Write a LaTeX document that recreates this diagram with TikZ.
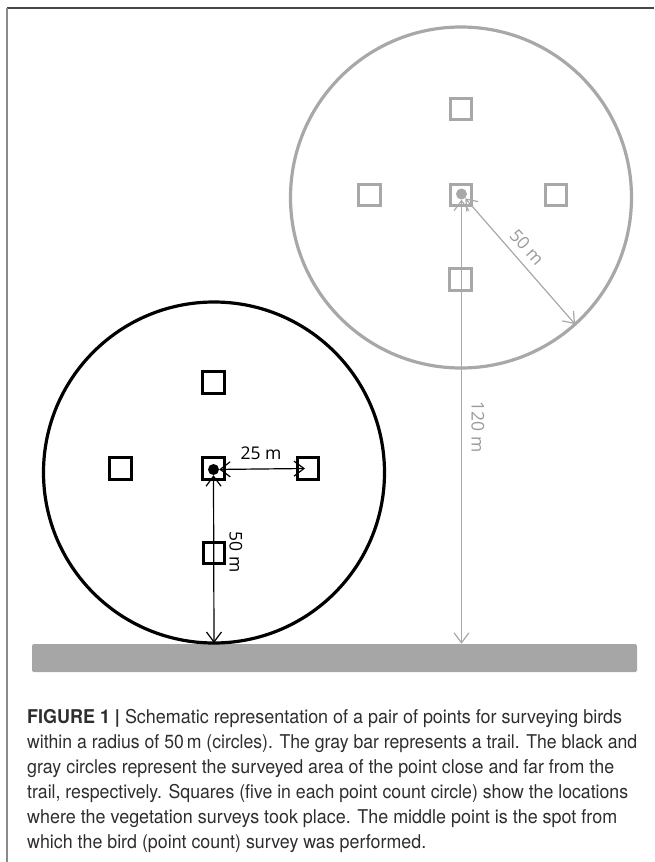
\documentclass[tikz,border=0pt]{standalone}
\usepackage{fontspec}
\setmainfont{TeX Gyre Heros}
\newfontfamily\labelfont{Open Sans}
\usetikzlibrary{arrows.meta}
\definecolor{ringgray}{HTML}{A8A8A8}
\definecolor{trailgray}{HTML}{A6A6A6}
\definecolor{capgray}{HTML}{2E2E2E}
\definecolor{labgray}{HTML}{9A9A9A}
\definecolor{frametop}{HTML}{454545}
\definecolor{frameleft}{HTML}{8A8A8A}
\newcommand\capline[2]{\resizebox{#1pt}{\height}{#2}}
\begin{document}
\begin{tikzpicture}[x=1pt,y=-1pt,
  barb/.tip={Straight Barb[length=10pt,width=15pt]},
  dimarrow/.style={{barb}-{barb}, line width=1.2pt},
  ring/.style={draw, circle, minimum size=341pt, inner sep=0pt, outer sep=0pt, line width=3.2pt},
  sq/.style={draw, rectangle, minimum size=21.5pt, inner sep=0pt, line width=3.2pt},
  spot/.style={circle, minimum size=11pt, inner sep=0pt},
  lab/.style={inner sep=0pt, font=\labelfont\fontsize{17.5}{17.5}\selectfont},
  capstyle/.style={anchor=base west, inner sep=0pt, text=capgray, font=\fontsize{19}{19}\selectfont}
]
\useasboundingbox (0,0) rectangle (654,862);
% frame
\draw[frametop, line width=1.4pt] (7,8) -- (654,8);
\draw[frameleft, line width=1.6pt] (7,8) -- (7,862);

% trail
\node[fill=trailgray, rounded corners=1.5pt, minimum width=605pt, minimum height=28pt, inner sep=0pt] (trail) at (334.5,658) {};

% far (gray) point
\node[ring, draw=ringgray] (gc) at (461,197.5) {};
\node[sq, draw=ringgray, line width=3pt] (gN) at (461,109) {};
\node[sq, draw=ringgray, line width=3pt] (gW) at (369.5,195) {};
\node[sq, draw=ringgray, line width=3pt] (gC) at (461,195) {};
\node[sq, draw=ringgray, line width=3pt] (gE) at (556,195) {};
\node[sq, draw=ringgray, line width=3pt] (gS) at (460.5,279.5) {};
\node[spot, fill=ringgray] (gdot) at (461.5,194) {};
\draw[dimarrow, ringgray] (gdot) -- (gc.-48);
\draw[dimarrow, ringgray] (gdot.south) -- (gdot.south |- trail.north);
\node[lab, text=labgray, rotate=-48] (l50g) at (527,247) {50 m};
\node[lab, text=labgray, rotate=-90] (l120) at (478,427) {120 m};

% near (black) point
\node[ring, draw=black] (bc) at (214,472.5) {};
\node[sq] (bN) at (213.5,382.5) {};
\node[sq] (bW) at (120.5,468.5) {};
\node[sq] (bC) at (213.5,468.5) {};
\node[sq] (bE) at (308,468.5) {};
\node[sq] (bS) at (214,553) {};
\node[spot, fill=black] (bdot) at (213.5,469.5) {};
\draw[dimarrow] (bdot) -- ([xshift=-3pt]bE.center);
\draw[dimarrow] (bdot.south) -- (bc.south);
\node[lab, text=black] (l25) at (261,453) {25 m};
\node[lab, text=black, rotate=-90] (l50b) at (236,552) {50 m};

% caption
\node[capstyle] (cap1) at (27,723) {\capline{595}{\textbf{FIGURE 1 |} Schematic representation of a pair of points for surveying birds}};
\node[capstyle] (cap2) at (27,748) {\capline{610}{within a radius of 50\,m (circles). The gray bar represents a trail. The black and}};
\node[capstyle] (cap3) at (27,773) {\capline{587}{gray circles represent the surveyed area of the point close and far from the}};
\node[capstyle] (cap4) at (27,798) {\capline{601}{trail, respectively. Squares (five in each point count circle) show the locations}};
\node[capstyle] (cap5) at (27,823) {\capline{590}{where the vegetation surveys took place. The middle point is the spot from}};
\node[capstyle] (cap6) at (27,848) {\capline{399}{which the bird (point count) survey was performed.}};
\end{tikzpicture}
\end{document}
